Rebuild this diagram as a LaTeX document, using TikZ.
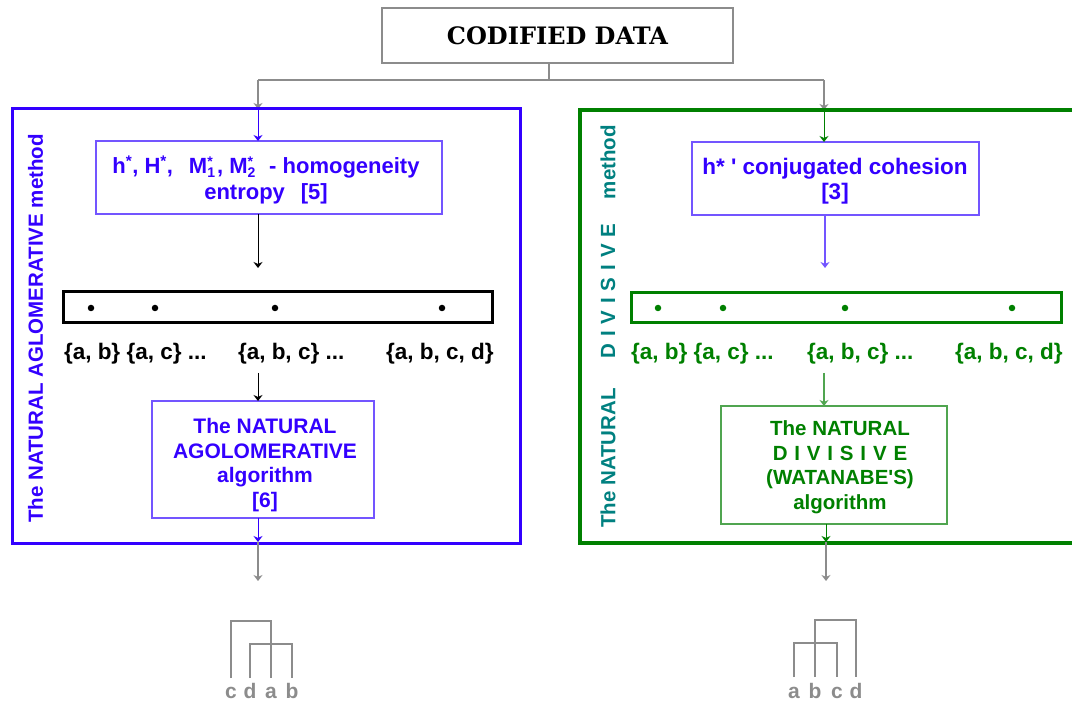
\documentclass[tikz,border=0pt]{standalone}
\usepackage{fontspec}
\setmainfont{Liberation Sans}
\newfontfamily\titlefont{DejaVu Serif}
\usetikzlibrary{arrows.meta}
\definecolor{vblue}{RGB}{51,0,255}
\definecolor{vblueL}{RGB}{115,85,255}
\definecolor{dgreen}{RGB}{0,128,0}
\definecolor{lgreen}{RGB}{80,165,80}
\definecolor{tealc}{RGB}{0,128,128}
\definecolor{lgray}{RGB}{140,140,140}
\newcommand{\supsub}[2]{\smash{\rlap{\raisebox{7pt}{\fontsize{14}{14}\selectfont #1}}\raisebox{-4pt}{\fontsize{14}{14}\selectfont #2}}}
\begin{document}
\begin{tikzpicture}[x=1pt,y=-1pt,
  every node/.style={font=\bfseries\fontsize{20.5}{24.5}\selectfont, inner sep=0pt, outer sep=0pt},
  tip/.style={-{Stealth[length=6pt,width=9pt]}},
  garr/.style={tip, draw=lgray, line width=1.2pt},
  gline/.style={draw=lgray, line width=1.2pt},
  frameb/.style={draw=vblue, line width=3pt},
  boxb/.style={draw=vblueL, line width=1.3pt, text=vblue, align=center},
  boxg/.style={draw=lgreen, line width=1.3pt, text=dgreen, align=center},
  bar/.style={line width=3pt},
  dot/.style={circle, fill, minimum size=6.5pt},
  lab/.style={anchor=base west, font=\bfseries\fontsize{22.5}{26}\selectfont},
  vtext/.style={rotate=90},
  dend/.style={draw=lgray, line width=2pt},
  leaf/.style={anchor=base, text=lgray, font=\bfseries\fontsize{21}{24}\selectfont}
]
\useasboundingbox (0,0) rectangle (1072,703);

% top
\node[draw=lgray, line width=2pt, minimum width=351pt, minimum height=55pt,
      font=\titlefont\bfseries\fontsize{24}{27}\selectfont] (cod) at (557.5,35.5) {CODIFIED DATA};
\coordinate (split) at (549,80);
\coordinate (sl) at (258,80);
\coordinate (sr) at (824,80);
\coordinate (lt) at (258,109);
\coordinate (rt) at (824,110);
\draw[gline] (cod.south -| split) -- (split);
\draw[gline] (sl) -- (sr);
\draw[garr] (sl) -- (lt);
\draw[garr] (sr) -- (rt);

% ---------- left frame
\node[frameb, minimum width=508pt, minimum height=434pt] (lframe) at (266,326) {};
\node[vtext, text=vblue] (lvt) at (35.5,328.5) {The NATURAL AGLOMERATIVE method};

\node[boxb, minimum width=346pt, minimum height=73pt] (b1) at (269,177.5) {};
\node[text=vblue, align=center, font=\bfseries\fontsize{22}{26}\selectfont] (b1t) at (266,180)
 {h\textsuperscript{*}, H\textsuperscript{*},\;\, M\supsub{*}{1}\kern2pt, M\supsub{*}{2}\kern4pt\, - homogeneity\\entropy\;\, [5]};
\draw[tip, draw=vblue, line width=1pt] (lt) -- (lt |- b1.north);

\node[draw=black, bar, minimum width=429pt, minimum height=31pt] (lbar) at (277.5,307.5) {};
\coordinate (la1) at (258,268);
\draw[tip, line width=1pt] (b1.south -| la1) -- (la1);
\node[dot] (ld1) at (91,308) {};
\node[dot] (ld2) at (155,308) {};
\node[dot] (ld3) at (275,308) {};
\node[dot] (ld4) at (442,308) {};

\node[lab] (ll1) at (64,360) {\{a, b\} \{a, c\} ...};
\node[lab] (ll2) at (238,360) {\{a, b, c\} ...};
\node[lab] (ll3) at (386,360) {\{a, b, c, d\}};

\node[boxb, minimum width=222pt, minimum height=117pt] (b2) at (263,459.5) {};
\node[text=vblue, align=center, font=\bfseries\fontsize{21}{24.5}\selectfont] (b2t) at (265,465)
 {The NATURAL\\AGOLOMERATIVE\\algorithm\\{[6]}};
\coordinate (la2) at (258,373);
\draw[tip, line width=1pt] (la2) -- (la2 |- b2.north);
\coordinate (lb) at (258,542);
\coordinate (lbe) at (258,581);
\draw[tip, draw=vblue, line width=1pt] (b2.south -| lb) -- (lb);
\draw[garr] (lb) -- (lbe);

% left dendrogram
\draw[dend] (231,678) -- (231,621) -- (271,621) -- (271,678);
\draw[dend] (250,678) -- (250,644) -- (292,644) -- (292,678);
\node[leaf] (lc) at (231,698) {c};
\node[leaf] (ld) at (250,698) {d};
\node[leaf] (la) at (271,698) {a};
\node[leaf] (lbb) at (292,698) {b};

% ---------- right frame
\coordinate (rf1) at (1072,110);
\coordinate (rf2) at (580,110);
\coordinate (rf3) at (580,543);
\coordinate (rf4) at (1072,543);
\draw[draw=dgreen, line width=3.5pt] (rf1) -- (rf2) -- (rf3) -- (rf4);
\node[vtext, text=tealc] (rv1) at (608,162) {method};
\node[vtext, text=tealc] (rv2) at (608,291) {D\,\,I\,\,V\,\,I\,\,S\,\,I\,\,V\,\,E};
\node[vtext, text=tealc] (rv3) at (608,458) {The NATURAL};

\node[boxb, minimum width=287pt, minimum height=73pt] (b3) at (835.5,178.5) {};
\node[text=vblue, align=center, font=\bfseries\fontsize{22.5}{25}\selectfont] (b3t) at (835,181)
 {h* \textquotesingle{} conjugated cohesion\\{[3]}};
\draw[tip, draw=dgreen, line width=1pt] (rt) -- (rt |- b3.north);
\coordinate (ra1) at (825,268);
\draw[tip, draw=vblueL, line width=1.2pt] (b3.south -| ra1) -- (ra1);

\node[draw=dgreen, bar, minimum width=430pt, minimum height=30pt] (rbar) at (846,308) {};
\node[dot, fill=dgreen] (rd1) at (658,308) {};
\node[dot, fill=dgreen] (rd2) at (723,308) {};
\node[dot, fill=dgreen] (rd3) at (845,308) {};
\node[dot, fill=dgreen] (rd4) at (1012,308) {};

\node[lab, text=dgreen] (rl1) at (631,360) {\{a, b\} \{a, c\} ...};
\node[lab, text=dgreen] (rl2) at (807,360) {\{a, b, c\} ...};
\node[lab, text=dgreen] (rl3) at (955,360) {\{a, b, c, d\}};

\node[boxg, minimum width=226pt, minimum height=118pt] (b4) at (834,465) {};
\node[text=dgreen, align=center] (b4t) at (840,467)
 {The NATURAL\\D\,\,I\,\,V\,\,I\,\,S\,\,I\,\,V\,\,E\\(WATANABE\textquotesingle S)\\algorithm};
\coordinate (ra2) at (824,373);
\draw[tip, draw=lgreen, line width=1.2pt] (ra2) -- (ra2 |- b4.north);
\coordinate (rb) at (826,542);
\coordinate (rbe) at (826,581);
\draw[tip, draw=dgreen, line width=1pt] (b4.south -| rb) -- (rb);
\draw[garr] (rb) -- (rbe);

% right dendrogram
\draw[dend] (794,677) -- (794,643) -- (837,643) -- (837,677);
\draw[dend] (815,677) -- (815,620) -- (856,620) -- (856,677);
\node[leaf] (ra) at (794,698) {a};
\node[leaf] (rb2) at (815,698) {b};
\node[leaf] (rc) at (837,698) {c};
\node[leaf] (rdd) at (856,698) {d};
\end{tikzpicture}
\end{document}
